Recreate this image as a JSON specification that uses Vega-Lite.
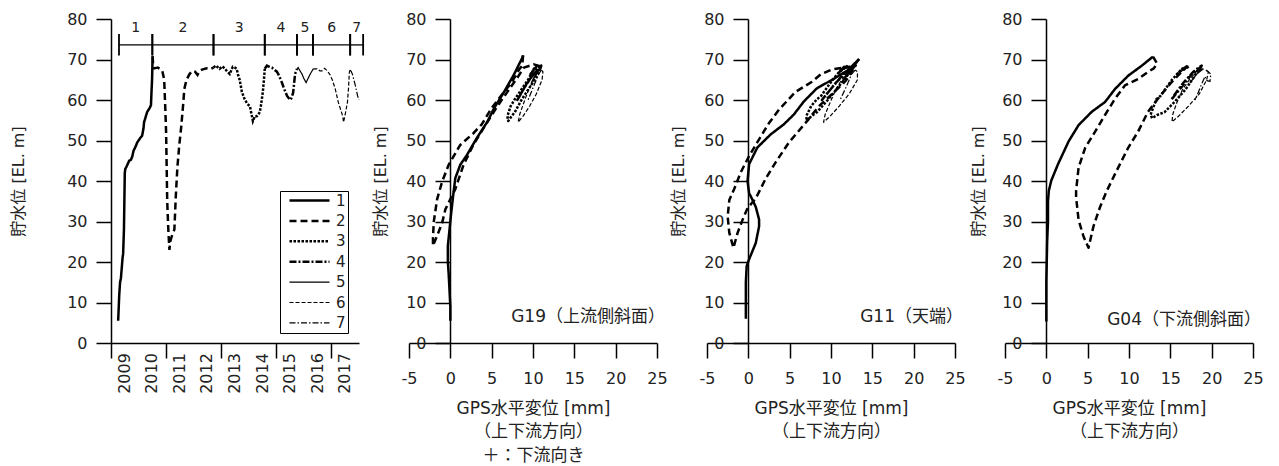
{
  "$schema": "https://vega.github.io/schema/vega-lite/v6.json",
  "background": "white",
  "padding": {"left": 10, "top": 11, "right": 5, "bottom": 2},
  "bounds": "flush",
  "spacing": 50,
  "resolve": {"scale": {"strokeDash": "independent"}, "legend": {"strokeDash": "independent"}},
  "datasets": {
    "wl": [
      {"p":"1","t":2009.26,"h":5.5},{"p":"1","t":2009.3,"h":12},{"p":"1","t":2009.33,"h":15},{"p":"1","t":2009.36,"h":16},{"p":"1","t":2009.42,"h":21},{"p":"1","t":2009.44,"h":22},{"p":"1","t":2009.47,"h":28},{"p":"1","t":2009.5,"h":42},{"p":"1","t":2009.52,"h":43},{"p":"1","t":2009.56,"h":43.5},{"p":"1","t":2009.66,"h":45},{"p":"1","t":2009.72,"h":45.2},{"p":"1","t":2009.77,"h":46},{"p":"1","t":2009.82,"h":47.5},{"p":"1","t":2009.9,"h":48.6},{"p":"1","t":2009.95,"h":49.5},{"p":"1","t":2010.05,"h":50.5},{"p":"1","t":2010.13,"h":51.2},{"p":"1","t":2010.18,"h":53},{"p":"1","t":2010.2,"h":54.5},{"p":"1","t":2010.31,"h":57},{"p":"1","t":2010.4,"h":58},{"p":"1","t":2010.45,"h":58.7},{"p":"1","t":2010.47,"h":62},{"p":"1","t":2010.49,"h":65},{"p":"1","t":2010.51,"h":70.8},
      {"p":"2","t":2010.51,"h":70.8},{"p":"2","t":2010.53,"h":68.5},{"p":"2","t":2010.57,"h":67.8},{"p":"2","t":2010.7,"h":68},{"p":"2","t":2010.8,"h":67.6},{"p":"2","t":2010.86,"h":67.2},{"p":"2","t":2010.9,"h":66},{"p":"2","t":2010.93,"h":65},{"p":"2","t":2010.97,"h":58},{"p":"2","t":2011.0,"h":52},{"p":"2","t":2011.04,"h":35},{"p":"2","t":2011.08,"h":28},{"p":"2","t":2011.12,"h":23},{"p":"2","t":2011.15,"h":25},{"p":"2","t":2011.19,"h":26},{"p":"2","t":2011.24,"h":27},{"p":"2","t":2011.3,"h":28},{"p":"2","t":2011.35,"h":36},{"p":"2","t":2011.41,"h":43.5},{"p":"2","t":2011.48,"h":49},{"p":"2","t":2011.55,"h":53.5},{"p":"2","t":2011.62,"h":59},{"p":"2","t":2011.66,"h":62.7},{"p":"2","t":2011.74,"h":65},{"p":"2","t":2011.85,"h":66.4},{"p":"2","t":2011.96,"h":67.2},{"p":"2","t":2012.05,"h":67},{"p":"2","t":2012.14,"h":66.2},{"p":"2","t":2012.21,"h":67.2},{"p":"2","t":2012.3,"h":67.5},{"p":"2","t":2012.47,"h":67.8},{"p":"2","t":2012.6,"h":67.6},{"p":"2","t":2012.72,"h":68},
      {"p":"3","t":2012.72,"h":68},{"p":"3","t":2012.8,"h":68.5},{"p":"3","t":2012.94,"h":67.7},{"p":"3","t":2013.05,"h":68.3},{"p":"3","t":2013.2,"h":67.2},{"p":"3","t":2013.31,"h":66.4},{"p":"3","t":2013.42,"h":68.2},{"p":"3","t":2013.5,"h":68},{"p":"3","t":2013.56,"h":67.7},{"p":"3","t":2013.62,"h":66},{"p":"3","t":2013.67,"h":65},{"p":"3","t":2013.75,"h":62},{"p":"3","t":2013.85,"h":60.2},{"p":"3","t":2013.95,"h":59},{"p":"3","t":2014.04,"h":58.5},{"p":"3","t":2014.1,"h":56.5},{"p":"3","t":2014.15,"h":54.8},{"p":"3","t":2014.22,"h":56},{"p":"3","t":2014.29,"h":56},{"p":"3","t":2014.35,"h":56.5},{"p":"3","t":2014.4,"h":57},{"p":"3","t":2014.45,"h":59},{"p":"3","t":2014.51,"h":62},{"p":"3","t":2014.55,"h":65},{"p":"3","t":2014.58,"h":67.7},
      {"p":"4","t":2014.58,"h":67.7},{"p":"4","t":2014.66,"h":68.5},{"p":"4","t":2014.75,"h":68.2},{"p":"4","t":2014.84,"h":68},{"p":"4","t":2014.92,"h":67.5},{"p":"4","t":2015.02,"h":67},{"p":"4","t":2015.1,"h":66},{"p":"4","t":2015.2,"h":64.3},{"p":"4","t":2015.3,"h":62.5},{"p":"4","t":2015.39,"h":61},{"p":"4","t":2015.5,"h":60},{"p":"4","t":2015.55,"h":60.5},{"p":"4","t":2015.61,"h":61.8},{"p":"4","t":2015.68,"h":66.4},{"p":"4","t":2015.75,"h":67.7},
      {"p":"5","t":2015.75,"h":67.7},{"p":"5","t":2015.79,"h":68},{"p":"5","t":2015.86,"h":67.2},{"p":"5","t":2015.93,"h":66.4},{"p":"5","t":2016.0,"h":65.3},{"p":"5","t":2016.08,"h":64.3},{"p":"5","t":2016.15,"h":65.3},{"p":"5","t":2016.23,"h":66.4},{"p":"5","t":2016.34,"h":67.7},
      {"p":"6","t":2016.34,"h":67.7},{"p":"6","t":2016.48,"h":67.7},{"p":"6","t":2016.58,"h":67.2},{"p":"6","t":2016.66,"h":67.2},{"p":"6","t":2016.75,"h":67.8},{"p":"6","t":2016.85,"h":67.2},{"p":"6","t":2016.95,"h":66.2},{"p":"6","t":2017.03,"h":65},{"p":"6","t":2017.14,"h":62.7},{"p":"6","t":2017.25,"h":59.4},{"p":"6","t":2017.35,"h":57.3},{"p":"6","t":2017.41,"h":56},{"p":"6","t":2017.44,"h":54.5},{"p":"6","t":2017.5,"h":56.5},{"p":"6","t":2017.58,"h":59.4},{"p":"6","t":2017.62,"h":63},{"p":"6","t":2017.65,"h":66.9},{"p":"6","t":2017.68,"h":67.4},
      {"p":"7","t":2017.68,"h":67.4},{"p":"7","t":2017.72,"h":67},{"p":"7","t":2017.76,"h":66.4},{"p":"7","t":2017.87,"h":63.5},{"p":"7","t":2017.95,"h":61},{"p":"7","t":2018.0,"h":60}
    ],
    "periods": [
      {"period":"1","start":2009.29,"end":2010.5},
      {"period":"2","start":2010.5,"end":2012.72},
      {"period":"3","start":2012.72,"end":2014.58},
      {"period":"4","start":2014.58,"end":2015.75},
      {"period":"5","start":2015.75,"end":2016.33},
      {"period":"6","start":2016.33,"end":2017.68},
      {"period":"7","start":2017.68,"end":2018.15}
    ],
    "years": [
      {"year":2009},{"year":2010},{"year":2011},{"year":2012},{"year":2013},{"year":2014},{"year":2015},{"year":2016},{"year":2017}
    ],
    "g19": [
      {"p":"1","d":0,"h":5.5},{"p":"1","d":0,"h":9},{"p":"1","d":-0.1,"h":13},{"p":"1","d":-0.2,"h":17},{"p":"1","d":-0.3,"h":20},{"p":"1","d":-0.3,"h":24},{"p":"1","d":-0.1,"h":28},{"p":"1","d":0.1,"h":32},{"p":"1","d":0.3,"h":35.7},{"p":"1","d":0.6,"h":40.7},{"p":"1","d":1.2,"h":44},{"p":"1","d":2,"h":46.4},{"p":"1","d":3.2,"h":50.6},{"p":"1","d":4.5,"h":54.7},{"p":"1","d":5.3,"h":58},{"p":"1","d":6.5,"h":62},{"p":"1","d":7.7,"h":66.3},{"p":"1","d":8.7,"h":70.4},{"p":"1","d":8.8,"h":71},
      {"p":"2","d":8.8,"h":71},{"p":"2","d":8.7,"h":68.5},{"p":"2","d":8.5,"h":68},{"p":"2","d":8.3,"h":67.5},{"p":"2","d":7.9,"h":66},{"p":"2","d":7.3,"h":64},{"p":"2","d":6.5,"h":62},{"p":"2","d":5,"h":58},{"p":"2","d":3.8,"h":54},{"p":"2","d":2.8,"h":51.8},{"p":"2","d":1.2,"h":48.9},{"p":"2","d":-0.2,"h":44},{"p":"2","d":-1,"h":39.8},{"p":"2","d":-1.6,"h":35.5},{"p":"2","d":-2,"h":30},{"p":"2","d":-2.1,"h":26},{"p":"2","d":-2.1,"h":24},{"p":"2","d":-1.6,"h":26.5},{"p":"2","d":-1,"h":29.6},{"p":"2","d":-0.6,"h":33},{"p":"2","d":0.6,"h":38},{"p":"2","d":1.6,"h":44},{"p":"2","d":2.8,"h":49},{"p":"2","d":4,"h":53},{"p":"2","d":5.3,"h":57.2},{"p":"2","d":6.1,"h":59.7},{"p":"2","d":6.9,"h":62},{"p":"2","d":8.1,"h":65.5},{"p":"2","d":8.9,"h":68},{"p":"2","d":10.1,"h":68.8},{"p":"2","d":10.9,"h":68.3},
      {"p":"3","d":10.9,"h":68.3},{"p":"3","d":10.3,"h":67.7},{"p":"3","d":10,"h":67.2},{"p":"3","d":9.7,"h":66.4},{"p":"3","d":10.4,"h":68.2},{"p":"3","d":10.1,"h":67.7},{"p":"3","d":9.4,"h":65},{"p":"3","d":8.4,"h":62},{"p":"3","d":7.8,"h":60.2},{"p":"3","d":7.3,"h":58.5},{"p":"3","d":6.9,"h":56},{"p":"3","d":7.0,"h":54.8},{"p":"3","d":7.4,"h":56},{"p":"3","d":7.8,"h":57},{"p":"3","d":8.6,"h":60},{"p":"3","d":9.4,"h":62.5},{"p":"3","d":10.2,"h":65},{"p":"3","d":10.9,"h":67.7},
      {"p":"4","d":10.9,"h":67.7},{"p":"4","d":11,"h":68.5},{"p":"4","d":10.7,"h":68},{"p":"4","d":10.3,"h":67},{"p":"4","d":9.3,"h":64.3},{"p":"4","d":8.4,"h":61},{"p":"4","d":8.1,"h":60},{"p":"4","d":8.6,"h":61.8},{"p":"4","d":10,"h":66.4},{"p":"4","d":10.8,"h":67.7},
      {"p":"5","d":10.8,"h":67.7},{"p":"5","d":10.9,"h":68},{"p":"5","d":10.4,"h":66.4},{"p":"5","d":9.8,"h":64.3},{"p":"5","d":10.3,"h":66.4},{"p":"5","d":10.9,"h":67.7},
      {"p":"6","d":10.9,"h":67.7},{"p":"6","d":10.7,"h":67.2},{"p":"6","d":10.6,"h":67.2},{"p":"6","d":10.1,"h":65},{"p":"6","d":9.5,"h":62.7},{"p":"6","d":8.9,"h":59.4},{"p":"6","d":8.4,"h":56.5},{"p":"6","d":8.2,"h":54.5},{"p":"6","d":8.8,"h":56},{"p":"6","d":9.6,"h":58.5},{"p":"6","d":10.4,"h":61.5},{"p":"6","d":11.1,"h":65},{"p":"6","d":11.2,"h":67},{"p":"6","d":11,"h":67.4},
      {"p":"7","d":11,"h":67.4},{"p":"7","d":10.7,"h":66.4},{"p":"7","d":10.1,"h":63.5},{"p":"7","d":9.4,"h":60}
    ],
    "g11": [
      {"p":"1","d":-0.3,"h":6},{"p":"1","d":-0.3,"h":10},{"p":"1","d":-0.3,"h":15},{"p":"1","d":-0.2,"h":19},{"p":"1","d":0.1,"h":20.7},{"p":"1","d":0.9,"h":24.7},{"p":"1","d":1.3,"h":28.8},{"p":"1","d":1.3,"h":30.5},{"p":"1","d":0.9,"h":33.6},{"p":"1","d":0.3,"h":36.2},{"p":"1","d":0.1,"h":36.9},{"p":"1","d":-0.1,"h":40},{"p":"1","d":0.1,"h":44.2},{"p":"1","d":1.1,"h":48.3},{"p":"1","d":2.7,"h":51.5},{"p":"1","d":4.3,"h":54},{"p":"1","d":5.5,"h":56.4},{"p":"1","d":6.7,"h":59.6},{"p":"1","d":8.3,"h":62.9},{"p":"1","d":10.4,"h":65.3},{"p":"1","d":12,"h":67.3},{"p":"1","d":13.4,"h":70.1},
      {"p":"2","d":13.4,"h":70.1},{"p":"2","d":12.6,"h":68},{"p":"2","d":11.5,"h":68},{"p":"2","d":10.2,"h":67.6},{"p":"2","d":8.8,"h":66.4},{"p":"2","d":7.7,"h":64.5},{"p":"2","d":5.7,"h":62},{"p":"2","d":3.7,"h":57.6},{"p":"2","d":2.5,"h":54.3},{"p":"2","d":1.3,"h":50.3},{"p":"2","d":0.1,"h":46.2},{"p":"2","d":-0.9,"h":42.2},{"p":"2","d":-1.7,"h":38.1},{"p":"2","d":-2.3,"h":35.3},{"p":"2","d":-2.5,"h":31.2},{"p":"2","d":-2.3,"h":27.2},{"p":"2","d":-1.8,"h":23.5},{"p":"2","d":-1.3,"h":27.2},{"p":"2","d":-0.7,"h":30.4},{"p":"2","d":-0.1,"h":33.3},{"p":"2","d":0.9,"h":35.7},{"p":"2","d":2.1,"h":40.6},{"p":"2","d":3.3,"h":44.6},{"p":"2","d":4.9,"h":49.5},{"p":"2","d":6.9,"h":54.3},{"p":"2","d":8.5,"h":58.4},{"p":"2","d":10.2,"h":61.6},{"p":"2","d":11.8,"h":64.8},{"p":"2","d":12.6,"h":67.3},{"p":"2","d":12.4,"h":68},
      {"p":"3","d":12.4,"h":68},{"p":"3","d":12,"h":68.5},{"p":"3","d":11.5,"h":67.7},{"p":"3","d":12,"h":68.3},{"p":"3","d":11.2,"h":67.2},{"p":"3","d":10.8,"h":66.4},{"p":"3","d":11.6,"h":68.2},{"p":"3","d":11.3,"h":67.7},{"p":"3","d":10.2,"h":65},{"p":"3","d":8.8,"h":61},{"p":"3","d":8.3,"h":60.2},{"p":"3","d":7.6,"h":58.5},{"p":"3","d":7,"h":56},{"p":"3","d":7.1,"h":54.8},{"p":"3","d":7.6,"h":56},{"p":"3","d":8.3,"h":57},{"p":"3","d":9.6,"h":60},{"p":"3","d":10.8,"h":63},{"p":"3","d":11.8,"h":65.5},{"p":"3","d":12.5,"h":67.7},
      {"p":"4","d":12.5,"h":67.7},{"p":"4","d":13,"h":68.5},{"p":"4","d":12.6,"h":68},{"p":"4","d":12,"h":67},{"p":"4","d":10.6,"h":64.3},{"p":"4","d":9.3,"h":61},{"p":"4","d":8.9,"h":60},{"p":"4","d":9.6,"h":61.8},{"p":"4","d":11.5,"h":66.4},{"p":"4","d":12.5,"h":67.7},
      {"p":"5","d":12.5,"h":67.7},{"p":"5","d":12.8,"h":68},{"p":"5","d":12.1,"h":66.4},{"p":"5","d":11.3,"h":64.3},{"p":"5","d":11.9,"h":66.4},{"p":"5","d":12.7,"h":67.7},
      {"p":"6","d":12.7,"h":67.7},{"p":"6","d":12.4,"h":67.2},{"p":"6","d":12.2,"h":67.2},{"p":"6","d":11.3,"h":65},{"p":"6","d":10.6,"h":62.7},{"p":"6","d":9.9,"h":59.4},{"p":"6","d":9.3,"h":56.5},{"p":"6","d":9.1,"h":54.5},{"p":"6","d":9.9,"h":56},{"p":"6","d":11,"h":58.5},{"p":"6","d":12.2,"h":61.5},{"p":"6","d":13.2,"h":65},{"p":"6","d":13.2,"h":67},{"p":"6","d":12.9,"h":67.4},
      {"p":"7","d":12.9,"h":67.4},{"p":"7","d":12.5,"h":66.4},{"p":"7","d":11.9,"h":63.5},{"p":"7","d":11.1,"h":60}
    ],
    "g04": [
      {"p":"1","d":0,"h":5.3},{"p":"1","d":0,"h":10},{"p":"1","d":0,"h":15},{"p":"1","d":0.05,"h":20},{"p":"1","d":0.1,"h":25},{"p":"1","d":0.2,"h":30},{"p":"1","d":0.2,"h":35},{"p":"1","d":0.3,"h":37.6},{"p":"1","d":0.6,"h":40.1},{"p":"1","d":1.4,"h":44.1},{"p":"1","d":2.7,"h":49.8},{"p":"1","d":3.9,"h":53.8},{"p":"1","d":5.5,"h":57.1},{"p":"1","d":7.1,"h":59.5},{"p":"1","d":8.3,"h":62.7},{"p":"1","d":9.9,"h":66},{"p":"1","d":11.5,"h":68.4},{"p":"1","d":12.9,"h":70.7},
      {"p":"2","d":12.9,"h":70.7},{"p":"2","d":13.4,"h":69},{"p":"2","d":13,"h":67.8},{"p":"2","d":12.2,"h":66.8},{"p":"2","d":11.1,"h":65.2},{"p":"2","d":9.5,"h":63.6},{"p":"2","d":8.3,"h":60.3},{"p":"2","d":7.1,"h":56.3},{"p":"2","d":5.9,"h":52.2},{"p":"2","d":4.7,"h":48.2},{"p":"2","d":3.9,"h":43.3},{"p":"2","d":3.6,"h":37.6},{"p":"2","d":3.6,"h":36},{"p":"2","d":3.9,"h":30.4},{"p":"2","d":4.5,"h":26.3},{"p":"2","d":5.1,"h":23.5},{"p":"2","d":5.7,"h":28.8},{"p":"2","d":6.5,"h":33.6},{"p":"2","d":7.3,"h":37.5},{"p":"2","d":8.3,"h":41.7},{"p":"2","d":9.9,"h":48.2},{"p":"2","d":11.1,"h":52.2},{"p":"2","d":12.3,"h":57.1},{"p":"2","d":13.5,"h":60.3},{"p":"2","d":15.1,"h":64.3},{"p":"2","d":16.3,"h":66.8},{"p":"2","d":17.1,"h":68.4},
      {"p":"3","d":17.1,"h":68.4},{"p":"3","d":16.6,"h":67.7},{"p":"3","d":17.3,"h":68.3},{"p":"3","d":16.3,"h":67.2},{"p":"3","d":15.8,"h":66.4},{"p":"3","d":16.9,"h":68.2},{"p":"3","d":16.4,"h":67.7},{"p":"3","d":15.2,"h":65},{"p":"3","d":13.8,"h":61},{"p":"3","d":13.3,"h":60.2},{"p":"3","d":13,"h":58.5},{"p":"3","d":12.6,"h":56.3},{"p":"3","d":12.8,"h":55.5},{"p":"3","d":13.4,"h":56.3},{"p":"3","d":14.3,"h":57},{"p":"3","d":15.5,"h":59.5},{"p":"3","d":16.8,"h":62.5},{"p":"3","d":17.8,"h":65.5},{"p":"3","d":18.4,"h":67.7},
      {"p":"4","d":18.4,"h":67.7},{"p":"4","d":18.8,"h":68.5},{"p":"4","d":18.4,"h":68},{"p":"4","d":17.8,"h":67},{"p":"4","d":16.6,"h":64.3},{"p":"4","d":15.4,"h":61},{"p":"4","d":15.1,"h":60},{"p":"4","d":15.8,"h":61.8},{"p":"4","d":17.6,"h":66.4},{"p":"4","d":18.5,"h":67.7},
      {"p":"5","d":18.5,"h":67.7},{"p":"5","d":18.8,"h":68},{"p":"5","d":18.2,"h":66.4},{"p":"5","d":17.4,"h":64.3},{"p":"5","d":18.2,"h":66.4},{"p":"5","d":19,"h":67.7},
      {"p":"6","d":19,"h":67.7},{"p":"6","d":18.5,"h":67.2},{"p":"6","d":18.2,"h":67.2},{"p":"6","d":17.3,"h":65},{"p":"6","d":16.5,"h":62.7},{"p":"6","d":15.8,"h":59.4},{"p":"6","d":15.3,"h":56.5},{"p":"6","d":15.2,"h":54.6},{"p":"6","d":16,"h":56},{"p":"6","d":17.2,"h":58.5},{"p":"6","d":18.5,"h":61.5},{"p":"6","d":19.4,"h":65},{"p":"6","d":19.6,"h":67},{"p":"6","d":19.3,"h":67.4},
      {"p":"7","d":19.3,"h":67.4},{"p":"7","d":19.9,"h":66.4},{"p":"7","d":19.8,"h":64.6},{"p":"7","d":19.4,"h":64.8},{"p":"7","d":19.2,"h":65.8},{"p":"7","d":18.7,"h":63.5},{"p":"7","d":18,"h":60}
    ],
    "labels": [
      {"station":"g19","label":"G19（上流側斜面）"},
      {"station":"g11","label":"G11（天端）"},
      {"station":"g04","label":"G04（下流側斜面）"}
    ]
  },
  "hconcat": [
    {
      "width": 248, "height": 324,
      "layer": [
        {
          "data": {"name": "wl"},
          "mark": {"type": "line", "color": "black", "strokeCap": "butt"},
          "encoding": {
            "x": {"field": "t", "type": "quantitative", "scale": {"domain": [2009, 2018], "nice": false, "zero": false},
                  "axis": {"title": null, "values": [2009,2010,2011,2012,2013,2014,2015,2016,2017,2018], "labels": false}},
            "y": {"field": "h", "type": "quantitative", "scale": {"domain": [0, 80], "nice": false},
                  "axis": {"title": "貯水位 [EL. m]", "values": [0,10,20,30,40,50,60,70,80], "titlePadding": 40}},
            "strokeDash": {"field": "p", "type": "ordinal", "scale": {"domain": ["1","2","3","4","5","6","7"], "range": [[1,0],[7,4],[2.5,1.5],[7,2,2,2],[1,0],[4,2],[6,2,1.5,2]]},
                           "legend": {"orient": "none", "legendX": 169, "legendY": 172, "title": null, "symbolType": "M0,0H4", "symbolSize": 400, "labelOffset": 39, "padding": 2, "rowPadding": 4.4, "strokeColor": "black", "fillColor": "white", "labelFontSize": 15, "symbolStrokeColor": "black",
                                      "encode": {"symbols": {"update": {"strokeWidth": {"signal": "toNumber(datum.value) <= 4 ? 2.5 : 1.2"}}}}}},
            "strokeWidth": {"condition": {"test": "toNumber(datum.p) <= 4", "value": 2.5}, "value": 1.2}
          }
        },
        {
          "data": {"name": "years"},
          "transform": [{"calculate": "datum.year + 0.5", "as": "mid"}],
          "mark": {"type": "text", "angle": 270, "align": "right", "baseline": "middle", "fontSize": 16, "color": "#222"},
          "encoding": {
            "x": {"field": "mid", "type": "quantitative", "axis": {"title": null, "labels": false}},
            "y": {"datum": -2.5},
            "text": {"field": "year", "type": "quantitative", "format": "d"}
          }
        },
        {
          "data": {"name": "periods"},
          "mark": {"type": "rule", "color": "black", "strokeWidth": 1.3},
          "encoding": {
            "x": {"field": "start", "type": "quantitative", "axis": {"title": null, "labels": false}},
            "x2": {"field": "end"},
            "y": {"datum": 73.6}
          }
        },
        {
          "data": {"name": "periods"},
          "mark": {"type": "rule", "color": "black", "strokeWidth": 1.8},
          "encoding": {
            "x": {"field": "start", "type": "quantitative", "axis": {"title": null, "labels": false}},
            "y": {"datum": 76.3},
            "y2": {"datum": 71.0}
          }
        },
        {
          "data": {"name": "periods"},
          "mark": {"type": "rule", "color": "black", "strokeWidth": 1.8},
          "encoding": {
            "x": {"field": "end", "type": "quantitative", "axis": {"title": null, "labels": false}},
            "y": {"datum": 76.3},
            "y2": {"datum": 71.0}
          }
        },
        {
          "data": {"name": "periods"},
          "transform": [{"calculate": "(datum.start + datum.end) / 2", "as": "mid"}],
          "mark": {"type": "text", "fontSize": 14, "color": "#222", "baseline": "middle", "align": "center"},
          "encoding": {
            "x": {"field": "mid", "type": "quantitative", "axis": {"title": null, "labels": false}},
            "y": {"datum": 77.8},
            "text": {"field": "period"}
          }
        }
      ]
    },
    {
      "width": 248, "height": 324,
      "layer": [
        {
          "data": {"name": "g19"},
          "mark": {"type": "line", "color": "black", "strokeCap": "butt", "strokeJoin": "round"},
          "encoding": {
            "x": {"field": "d", "type": "quantitative", "scale": {"domain": [-5, 25], "nice": false, "zero": false},
                  "axis": {"title": ["GPS水平変位 [mm]", "（上下流方向）", "＋：下流向き"], "values": [-5,0,5,10,15,20,25], "labelExpr": "replace(datum.label, '\u2212', '-')"}},
            "y": {"field": "h", "type": "quantitative", "scale": {"domain": [0, 80], "nice": false},
                  "axis": {"title": "貯水位 [EL. m]", "values": [0,10,20,30,40,50,60,70,80], "offset": -41, "titlePadding": 17}},
            "strokeDash": {"field": "p", "type": "ordinal", "scale": {"domain": ["1","2","3","4","5","6","7"], "range": [[1,0],[7,4],[2.5,1.5],[7,2,2,2],[1,0],[4,2],[6,2,1.5,2]]}, "legend": null},
            "strokeWidth": {"condition": {"test": "toNumber(datum.p) <= 4", "value": 2.5}, "value": 1.2},
            "order": {"value": null}
          }
        },
        {
          "data": {"name": "labels"},
          "transform": [{"filter": "datum.station == 'g19'"}],
          "mark": {"type": "text", "fontSize": 17, "color": "#222", "align": "right", "baseline": "middle", "dx": 8},
          "encoding": {
            "x": {"datum": 25},
            "y": {"datum": 6.3},
            "text": {"field": "label"}
          }
        }
      ]
    },
    {
      "width": 248, "height": 324,
      "layer": [
        {
          "data": {"name": "g11"},
          "mark": {"type": "line", "color": "black", "strokeCap": "butt", "strokeJoin": "round"},
          "encoding": {
            "x": {"field": "d", "type": "quantitative", "scale": {"domain": [-5, 25], "nice": false, "zero": false},
                  "axis": {"title": ["GPS水平変位 [mm]", "（上下流方向）"], "values": [-5,0,5,10,15,20,25], "labelExpr": "replace(datum.label, '\u2212', '-')"}},
            "y": {"field": "h", "type": "quantitative", "scale": {"domain": [0, 80], "nice": false},
                  "axis": {"title": "貯水位 [EL. m]", "values": [0,10,20,30,40,50,60,70,80], "offset": -41, "titlePadding": 17}},
            "strokeDash": {"field": "p", "type": "ordinal", "scale": {"domain": ["1","2","3","4","5","6","7"], "range": [[1,0],[7,4],[2.5,1.5],[7,2,2,2],[1,0],[4,2],[6,2,1.5,2]]}, "legend": null},
            "strokeWidth": {"condition": {"test": "toNumber(datum.p) <= 4", "value": 2.5}, "value": 1.2},
            "order": {"value": null}
          }
        },
        {
          "data": {"name": "labels"},
          "transform": [{"filter": "datum.station == 'g11'"}],
          "mark": {"type": "text", "fontSize": 17, "color": "#222", "align": "right", "baseline": "middle", "dx": 8},
          "encoding": {
            "x": {"datum": 25},
            "y": {"datum": 6.3},
            "text": {"field": "label"}
          }
        }
      ]
    },
    {
      "width": 248, "height": 324,
      "layer": [
        {
          "data": {"name": "g04"},
          "mark": {"type": "line", "color": "black", "strokeCap": "butt", "strokeJoin": "round"},
          "encoding": {
            "x": {"field": "d", "type": "quantitative", "scale": {"domain": [-5, 25], "nice": false, "zero": false},
                  "axis": {"title": ["GPS水平変位 [mm]", "（上下流方向）"], "values": [-5,0,5,10,15,20,25], "labelExpr": "replace(datum.label, '\u2212', '-')"}},
            "y": {"field": "h", "type": "quantitative", "scale": {"domain": [0, 80], "nice": false},
                  "axis": {"title": "貯水位 [EL. m]", "values": [0,10,20,30,40,50,60,70,80], "offset": -41, "titlePadding": 15}},
            "strokeDash": {"field": "p", "type": "ordinal", "scale": {"domain": ["1","2","3","4","5","6","7"], "range": [[1,0],[7,4],[2.5,1.5],[7,2,2,2],[1,0],[4,2],[6,2,1.5,2]]}, "legend": null},
            "strokeWidth": {"condition": {"test": "toNumber(datum.p) <= 4", "value": 2.5}, "value": 1.2},
            "order": {"value": null}
          }
        },
        {
          "data": {"name": "labels"},
          "transform": [{"filter": "datum.station == 'g04'"}],
          "mark": {"type": "text", "fontSize": 17, "color": "#222", "align": "right", "baseline": "middle", "dx": 8},
          "encoding": {
            "x": {"datum": 25},
            "y": {"datum": 5.8},
            "text": {"field": "label"}
          }
        }
      ]
    }
  ],
  "config": {
    "font": "DejaVu Sans, Noto Sans CJK JP",
    "view": {"stroke": null},
    "axis": {
      "grid": false, "domainColor": "black", "tickColor": "black", "domainWidth": 1.5, "tickWidth": 1.5,
      "tickSize": 15, "labelPadding": 9, "labelFontSize": 16, "labelColor": "#222",
      "titleFontSize": 16, "titleFontWeight": "normal", "titleColor": "#222",
      "labelFlush": false, "labelOverlap": false, "labelBound": false
    },
    "axisX": {"titlePadding": 14, "titleLineHeight": 23.5, "labelPadding": 12, "titleFontSize": 17},
    "legend": {"labelColor": "#222"}
  }
}
